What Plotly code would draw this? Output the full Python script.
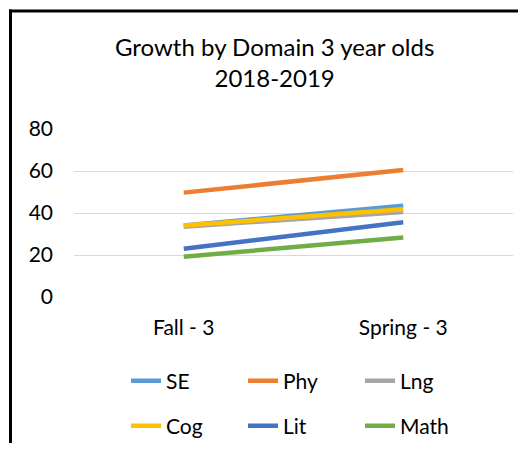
import plotly.graph_objects as go

categories = ["Fall - 3", "Spring - 3"]
series_names = ["SE", "Phy", "Lng", "Cog", "Lit", "Math"]
se = [34, 43.5]
phy = [49.7, 60.5]
lng = [33.5, 40.5]
cog = [34, 41.8]
lit = [23, 35.6]
math = [19.2, 28.3]
colors = ["#5B9BD5", "#ED7D31", "#A5A5A5", "#FFC000", "#4472C4", "#70AD47"]
y_ticks = [0, 20, 40, 60, 80]

values = [se, phy, lng, cog, lit, math]
FONT = "Lato"

fig = go.Figure()
for i, (name, vals, col) in enumerate(zip(series_names, values, colors)):
    fig.add_trace(go.Scatter(
        x=categories, y=vals, name=name, mode="lines",
        line=dict(color=col, width=4.5),
        legend="legend" if i < 3 else "legend2",
    ))

# page body has an 8px margin; figure sized to fit the 528x455 window
OFF = 8
W, H = 528 - 2 * OFF, 455 - 2 * OFF - 4
L = 74 - OFF
R = W - (513 - OFF)
T = 129 - OFF
B = H - (297 - OFF)
pw = W - L - R
ph = H - T - B

def px(x):
    return (x - OFF - L) / pw

def py(y):
    return (H - B - (y - OFF)) / ph

def cx(x):
    return (x - OFF) / W

def cy(y):
    return 1 - (y - OFF) / H

leg_common = dict(orientation="h", xref="container", yref="container",
                  xanchor="left", yanchor="middle", entrywidth=72,
                  entrywidthmode="pixels", font=dict(size=21),
                  bgcolor="rgba(0,0,0,0)")

fig.update_layout(
    width=W, height=H,
    margin=dict(l=L, r=R, t=T, b=B, autoexpand=False),
    paper_bgcolor="white", plot_bgcolor="white",
    font=dict(family=FONT, color="#000000", size=21),
    showlegend=True,
    xaxis=dict(range=[-0.5, 1.5], showgrid=False, showline=False, zeroline=False, ticks="",
               tickfont=dict(size=21), ticklabelstandoff=16),
    yaxis=dict(range=[0, 80], tickvals=y_ticks, showgrid=True, gridcolor="#D9D9D9",
               gridwidth=1.3, zeroline=False, showline=False, ticks="",
               tickfont=dict(size=21), ticklabelstandoff=20),
    legend=dict(x=cx(126), y=cy(381), **leg_common),
    legend2=dict(x=cx(126), y=cy(426), **leg_common),
    annotations=[dict(
        text="Growth by Domain 3 year olds<br>2018-2019", xref="paper", yref="paper",
        x=px(274), y=py(62), xanchor="center", yanchor="middle", showarrow=False,
        font=dict(size=24, family=FONT, color="#000000"),
    )],
    shapes=[
        dict(type="line", xref="paper", yref="paper",
             x0=px(10.5), y0=py(470), x1=px(10.5), y1=py(9.5),
             line=dict(color="#000000", width=3)),
        dict(type="line", xref="paper", yref="paper",
             x0=px(9), y0=py(11), x1=px(518), y1=py(11),
             line=dict(color="#000000", width=3)),
    ],
)

fig.write_html("out.html", config={"displayModeBar": False})
